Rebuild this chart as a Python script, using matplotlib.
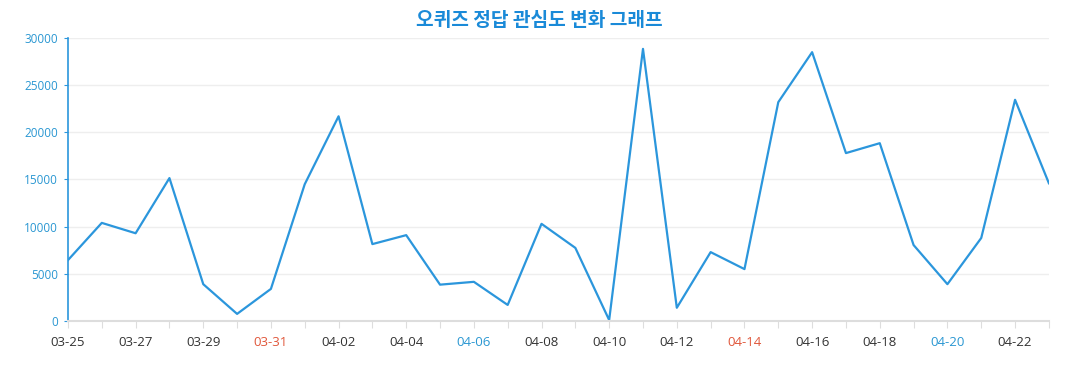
import matplotlib.pyplot as plt

plt.rcParams['font.family'] = ['Open Sans', 'Noto Sans CJK KR', 'DejaVu Sans']

dates = ['03-25', '03-26', '03-27', '03-28', '03-29', '03-30', '03-31',
         '04-01', '04-02', '04-03', '04-04', '04-05', '04-06', '04-07',
         '04-08', '04-09', '04-10', '04-11', '04-12', '04-13', '04-14',
         '04-15', '04-16', '04-17', '04-18', '04-19', '04-20', '04-21',
         '04-22', '04-23']
counts = [6450, 10400, 9300, 15150, 3900, 750, 3400,
          14500, 21700, 8150, 9100, 3850, 4150, 1700,
          10300, 7750, 100, 28850, 1400, 7300, 5500,
          23200, 28500, 17800, 18850, 8050, 3900, 8800,
          23450, 14600]
saturdays = ['04-06', '04-20']
sundays = ['03-31', '04-14']

blue = '#2b96dc'
fig = plt.figure(figsize=(10.77, 3.9), dpi=100)
ax = fig.add_axes([0.0631, 0.177, 0.9108, 0.7255])

x = list(range(len(dates)))
ax.plot(x, counts, color=blue, linewidth=1.6)

ax.set_xlim(0, len(dates) - 1)
ax.set_ylim(0, 30000)
ax.set_yticks(range(0, 30001, 5000))
ax.grid(axis='y', color='#eeeeee', linewidth=1)
ax.set_axisbelow(True)

ax.set_xticks(x)
ax.set_xticklabels([d if i % 2 == 0 else '' for i, d in enumerate(dates)])
for lbl, d in zip(ax.get_xticklabels(), dates):
    if d in sundays:
        lbl.set_color('#e0563a')
    elif d in saturdays:
        lbl.set_color('#2a97d2')
    else:
        lbl.set_color('#333333')

ax.tick_params(axis='x', length=5, color='#dddddd', labelsize=9.5, pad=6)
ax.tick_params(axis='y', length=3, color=blue, labelcolor='#2a97d2', labelsize=8.5, pad=4)

for s in ['top', 'right']:
    ax.spines[s].set_visible(False)
ax.spines['left'].set_color(blue)
ax.spines['left'].set_linewidth(1.2)
ax.spines['bottom'].set_color('#dddddd')
ax.spines['bottom'].set_linewidth(1.5)

fig.text(0.501, 0.947, '오퀴즈 정답 관심도 변화 그래프', ha='center', va='center',
         fontsize=13.8, fontweight='bold', color='#1a8ad8',
         family=['Noto Sans CJK KR', 'DejaVu Sans'])

fig.savefig('out.png', dpi=100)
